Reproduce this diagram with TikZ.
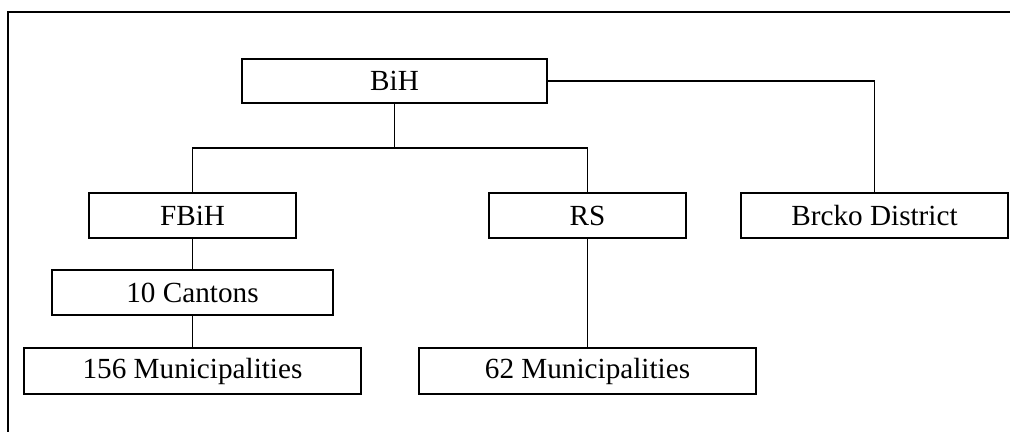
\documentclass[tikz,border=0pt]{standalone}
\usepackage{fontspec}
\setmainfont{Liberation Serif}
\usepackage{tikz}

\begin{document}
\begin{tikzpicture}[x=0.5pt,y=-0.5pt,
	unit/.style={draw,line width=0.8pt,inner sep=0pt,font=\fontsize{14.6}{17}\selectfont},
	link/.style={line width=0.8pt},
	sublink/.style={line width=0.5pt}]
			\useasboundingbox (0,0) rectangle (1010,432);
			\draw[line width=0.6pt] (1010,12) -- (8,12) -- (8,432);
			\node[unit, minimum width=152.5pt, minimum height=22pt] (BiH) at (394.5,81) {BiH};
			\node[unit, minimum width=103.5pt, minimum height=22.5pt] (FBiH) at (192.5,215.5) {FBiH};
			\node[unit, minimum width=98.5pt, minimum height=22.5pt] (RS) at (587.5,215.5) {RS};
			\node[unit, minimum width=133.5pt, minimum height=22.5pt] (BD) at (874.5,215.5) {Brcko District};
			\node[unit, minimum width=140.5pt, minimum height=22.5pt] (Cant) at (192.5,292.5) {10 Cantons};
			\node[unit, minimum width=168.5pt, minimum height=23pt] (MunF) at (192.5,371) {156 Municipalities};
			\node[unit, minimum width=168.5pt, minimum height=23pt] (MunR) at (587.5,371) {62 Municipalities};
			\coordinate (bar) at (394.5,148);
			\draw[link] (BiH) -- (bar);
			\draw[link] (FBiH) |- (bar) -| (RS);
			\draw[link] (BiH) -| (BD);
			\draw[sublink] (FBiH) -- (Cant);
			\draw[sublink] (Cant) -- (MunF);
			\draw[sublink] (RS) -- (MunR);
			\end{tikzpicture}
\end{document}
